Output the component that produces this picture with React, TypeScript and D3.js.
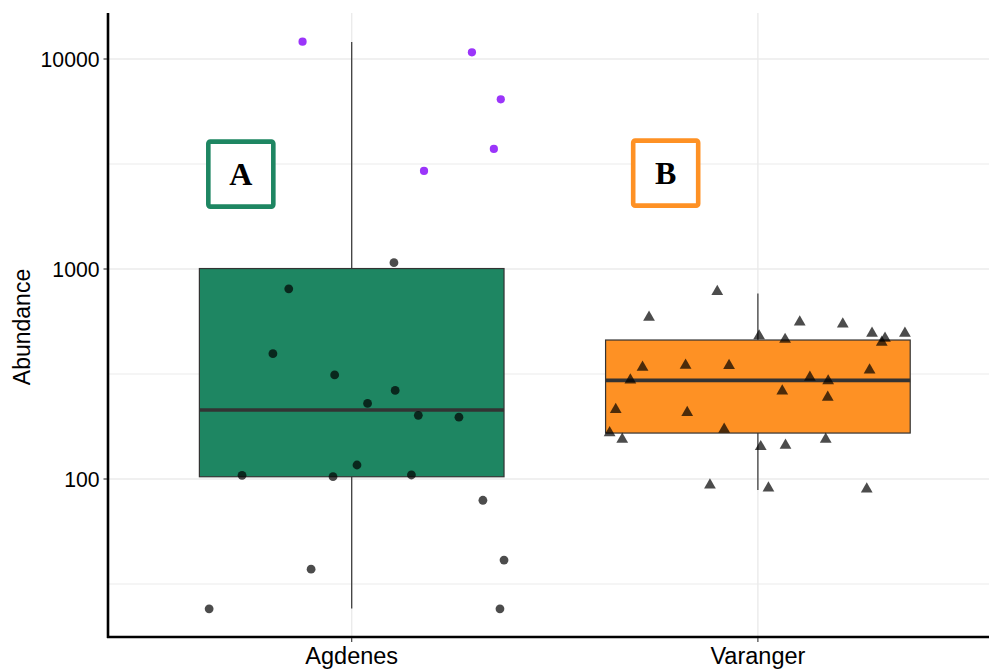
import React, { useEffect, useRef } from "react";
import * as d3 from "d3";

const categories = ["Agdenes", "Varanger"];
const boxFills = ["#1E8662", "#FE9124"];

// box statistics (per category)
const boxLow = [24.2, 88.7];
const boxQ1 = [102.5, 165.5];
const boxMedian = [213, 295];
const boxQ3 = [1005, 459];
const boxHigh = [12050, 765];

// Agdenes, highlighted points (purple)
const agdenesTopValues = [12090, 10760, 6430, 3730, 2930];
const agdenesTopJitter = [-0.121, 0.296, 0.367, 0.35, 0.178];

// Agdenes, other points
const agdenesValues = [1072, 805, 395, 313, 264, 229, 201, 197, 116.6, 102.6, 104.5, 104.1, 79.2, 41.1, 37.2, 24.1, 24.1];
const agdenesJitter = [0.104, -0.155, -0.194, -0.042, 0.107, 0.039, 0.164, 0.264, 0.013, -0.046, 0.147, -0.27, 0.323, 0.375, -0.1, 0.365, -0.351];

// Varanger points
const varangerValues = [780, 589, 559, 547, 494, 494, 468, 448, 480, 462, 340, 348, 347, 330, 296, 305, 293, 262, 245, 214, 207, 172.5, 166, 154.5, 154.5, 142.5, 144.6, 93.6, 90.6, 89.6];
const varangerJitter = [-0.1, -0.268, 0.103, 0.209, 0.281, 0.362, 0.313, 0.305, 0.003, 0.067, -0.284, -0.178, -0.071, 0.275, -0.314, 0.128, 0.173, 0.06, 0.172, -0.35, -0.174, -0.083, -0.365, -0.334, 0.167, 0.007, 0.068, -0.118, 0.026, 0.268];

// letter labels
const labelTexts = ["A", "B"];
const labelColors = ["#1E8662", "#FE9124"];
const labelOffsets = [-0.273, -0.227];
const labelValues = [2830, 2860];

const yTicks = [100, 1000, 10000];
const yMinor = [Math.pow(10, 1.5), Math.pow(10, 2.5), Math.pow(10, 3.5)];

export default function App() {
    const ref = useRef<SVGSVGElement | null>(null);

    useEffect(() => {
        const width = 989;
        const height = 671;
        const left = 108;
        const top = 13;
        const bottom = 637;

        const svg = d3.select(ref.current);
        svg.selectAll("*").remove();
        svg.attr("width", width).attr("height", height);

        const x = d3.scalePoint<string>().domain(categories).range([left, 1001.6]).padding(0.6);
        const step = x.step();
        const y = d3.scaleLog().domain([100, 10000]).range([479, 59]);

        const g = svg.append("g");

        // grid
        g.selectAll("line.minor")
            .data(yMinor)
            .join("line")
            .attr("x1", left).attr("x2", width)
            .attr("y1", (d) => y(d)).attr("y2", (d) => y(d))
            .attr("stroke", "#EBEBEB").attr("stroke-width", 1);
        g.selectAll("line.major")
            .data(yTicks)
            .join("line")
            .attr("x1", left).attr("x2", width)
            .attr("y1", (d) => y(d)).attr("y2", (d) => y(d))
            .attr("stroke", "#EBEBEB").attr("stroke-width", 1.4);
        g.selectAll("line.vmajor")
            .data(categories)
            .join("line")
            .attr("x1", (d) => x(d)!).attr("x2", (d) => x(d)!)
            .attr("y1", top).attr("y2", bottom)
            .attr("stroke", "#EBEBEB").attr("stroke-width", 1.4);

        // boxplots
        const bw = step * 0.75;
        categories.forEach((c, i) => {
            const cx = x(c)!;
            const bg = g.append("g");
            bg.append("line")
                .attr("x1", cx).attr("x2", cx)
                .attr("y1", y(boxLow[i])).attr("y2", y(boxQ1[i]))
                .attr("stroke", "#333").attr("stroke-width", 1.2);
            bg.append("line")
                .attr("x1", cx).attr("x2", cx)
                .attr("y1", y(boxQ3[i])).attr("y2", y(boxHigh[i]))
                .attr("stroke", "#333").attr("stroke-width", 1.2);
            bg.append("rect")
                .attr("x", cx - bw / 2).attr("width", bw)
                .attr("y", y(boxQ3[i])).attr("height", y(boxQ1[i]) - y(boxQ3[i]))
                .attr("fill", boxFills[i])
                .attr("stroke", "#333").attr("stroke-width", 1.2);
            bg.append("line")
                .attr("x1", cx - bw / 2).attr("x2", cx + bw / 2)
                .attr("y1", y(boxMedian[i])).attr("y2", y(boxMedian[i]))
                .attr("stroke", "#333").attr("stroke-width", 3.6);
        });

        // points
        const ax = x("Agdenes")!;
        const vx = x("Varanger")!;
        g.selectAll("circle.ag")
            .data(agdenesValues)
            .join("circle")
            .attr("cx", (_, i) => ax + agdenesJitter[i] * step)
            .attr("cy", (d) => y(d))
            .attr("r", 4.4)
            .attr("fill", "#000")
            .attr("fill-opacity", 0.7);
        g.selectAll("circle.top")
            .data(agdenesTopValues)
            .join("circle")
            .attr("cx", (_, i) => ax + agdenesTopJitter[i] * step)
            .attr("cy", (d) => y(d))
            .attr("r", 4.1)
            .attr("fill", "#9B35FA");
        const tri = d3.symbol().type(d3.symbolTriangle).size(60);
        g.selectAll("path.va")
            .data(varangerValues)
            .join("path")
            .attr("transform", (d, i) => `translate(${vx + varangerJitter[i] * step},${y(d)})`)
            .attr("d", tri()!)
            .attr("fill", "#000")
            .attr("fill-opacity", 0.7);

        // letter labels
        labelTexts.forEach((t, i) => {
            const lx = x(categories[i])! + labelOffsets[i] * step;
            const ly = y(labelValues[i]);
            g.append("rect")
                .attr("x", lx - 32.5).attr("y", ly - 32.5)
                .attr("width", 65).attr("height", 65)
                .attr("rx", 2)
                .attr("fill", "#fff")
                .attr("stroke", labelColors[i]).attr("stroke-width", 4.6);
            g.append("text")
                .attr("x", lx).attr("y", ly)
                .attr("dy", "0.34em")
                .attr("text-anchor", "middle")
                .attr("font-family", "'Liberation Serif', 'Times New Roman', serif")
                .attr("font-weight", "bold")
                .attr("font-size", 32)
                .attr("fill", "#000")
                .text(t);
        });

        // axes
        g.append("line")
            .attr("x1", left).attr("x2", left).attr("y1", top).attr("y2", bottom + 1)
            .attr("stroke", "#000").attr("stroke-width", 2.6);
        g.append("line")
            .attr("x1", left - 1).attr("x2", width).attr("y1", bottom).attr("y2", bottom)
            .attr("stroke", "#000").attr("stroke-width", 2.6);

        g.selectAll("line.ytick")
            .data(yTicks)
            .join("line")
            .attr("x1", left - 4.5).attr("x2", left - 1)
            .attr("y1", (d) => y(d)).attr("y2", (d) => y(d))
            .attr("stroke", "#333").attr("stroke-width", 1.1);
        g.selectAll("text.ytick")
            .data(yTicks)
            .join("text")
            .attr("x", left - 8.5)
            .attr("y", (d) => y(d))
            .attr("dy", "0.36em")
            .attr("text-anchor", "end")
            .attr("font-family", "'Liberation Sans', Arial, sans-serif")
            .attr("font-size", 21.2)
            .attr("fill", "#000")
            .text((d) => String(d));

        g.selectAll("line.xtick")
            .data(categories)
            .join("line")
            .attr("x1", (d) => x(d)!).attr("x2", (d) => x(d)!)
            .attr("y1", bottom + 1).attr("y2", bottom + 5)
            .attr("stroke", "#333").attr("stroke-width", 1.1);
        g.selectAll("text.xtick")
            .data(categories)
            .join("text")
            .attr("x", (d) => x(d)!)
            .attr("y", 664)
            .attr("text-anchor", "middle")
            .attr("font-family", "'Liberation Sans', Arial, sans-serif")
            .attr("font-size", 23.5)
            .attr("fill", "#000")
            .text((d) => d);

        g.append("text")
            .attr("transform", `translate(30,327) rotate(-90)`)
            .attr("text-anchor", "middle")
            .attr("font-family", "'Liberation Sans', Arial, sans-serif")
            .attr("font-size", 23)
            .attr("fill", "#000")
            .text("Abundance");
    }, []);

    return (
        <div style={{ position: "absolute", left: 0, top: 0, background: "#fff" }}>
            <svg ref={ref} style={{ display: "block" }}></svg>
        </div>
    );
}
